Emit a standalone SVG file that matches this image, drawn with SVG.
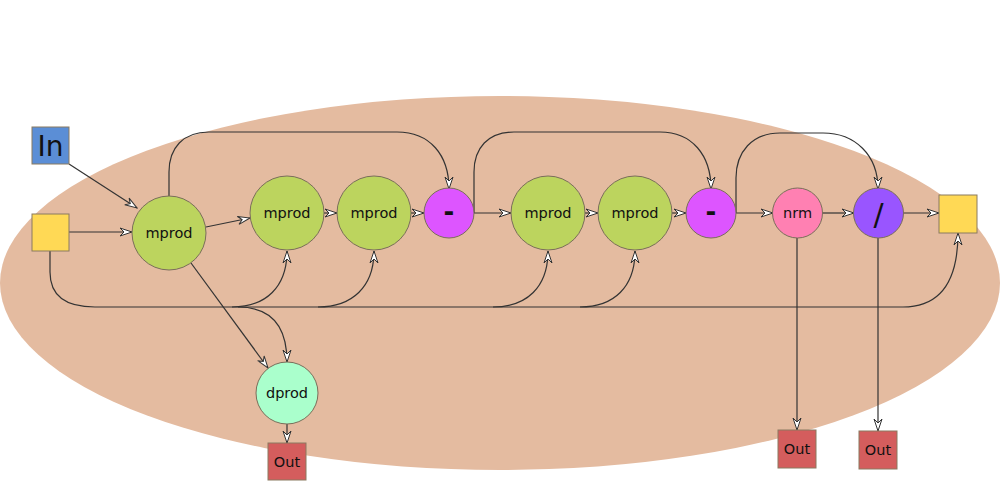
<svg xmlns="http://www.w3.org/2000/svg" width="1000" height="481" viewBox="0 0 1000 481">
<defs>
<marker id="arr" markerUnits="userSpaceOnUse" markerWidth="14" markerHeight="10" viewBox="-1 -1 14 10" refX="12" refY="4" orient="auto">
<path d="M0,0 L12,4 L0,8 L4,4 Z" fill="#fff" stroke="#333" stroke-width="1"/>
</marker>
</defs>
<style>
.c{fill:none;stroke:#333;stroke-width:1.2;marker-end:url(#arr)}
.n{stroke:#7a6e5a;stroke-width:1}
.t{font-family:"DejaVu Sans",sans-serif;font-size:14.5px;text-anchor:middle;dominant-baseline:central;fill:#111}
.mp{fill:#bcd45e}
.op{fill:#dd55ff}
.box{stroke:#8a7a60;stroke-width:1}
</style>
<rect width="1000" height="481" fill="#fff"/>
<ellipse cx="500" cy="283" rx="500" ry="187" fill="#e4bba0"/>
<g id="connectors">
<path class="c" d="M69,164 L137,208"/>
<path class="c" d="M69,232 L132,232"/>
<path class="c" d="M206,227 L250,218"/>
<path class="c" d="M324,213 L337,213"/>
<path class="c" d="M411,213 L424,213"/>
<path class="c" d="M474,213 L511,213"/>
<path class="c" d="M585,213 L598,213"/>
<path class="c" d="M672,213 L686,213"/>
<path class="c" d="M736,213 L773,213"/>
<path class="c" d="M822,213 L854,213"/>
<path class="c" d="M903,213 L939,213"/>
<path class="c" d="M169,196 L169,172 C169,148 183,132 209,132 L397,132 C430,132 449,155 449,189"/>
<path class="c" d="M474,213 L474,172 C474,148 488,132 514,132 L660,132 C692,132 711,155 711,189"/>
<path class="c" d="M736,213 L736,178 C736,152 752,133 780,133 L823,133 C855,133 878,155 878,189"/>
<path class="c" d="M50,251 L50,272 C50,295 65,307 95,307 L903,307 C938,307 958,285 958,233"/>
<path class="c" d="M232,307 C266,307 287,287 287,251"/>
<path class="c" d="M318,307 C352,307 374,287 374,251"/>
<path class="c" d="M493,307 C527,307 548,287 548,251"/>
<path class="c" d="M580,307 C614,307 635,287 635,251"/>
<path class="c" d="M238,307 C270,307 287,325 287,362"/>
<path class="c" d="M191,263 L268,368"/>
<path class="c" d="M287,424 L287,443"/>
<path class="c" d="M797,238 L797,430"/>
<path class="c" d="M878,238 L878,431"/>
</g>
<g id="in"><rect class="box" x="32" y="127" width="37" height="37" fill="#5b8ed6"/><text class="t" x="50.5" y="146" style="font-size:28px">In</text></g>
<g id="src"><rect class="box" x="32" y="214" width="37" height="37" fill="#ffd955"/></g>
<g id="mprod1"><circle class="n mp" cx="169" cy="233" r="37"/><text class="t" x="169" y="233">mprod</text></g>
<g id="mprod2"><circle class="n mp" cx="287" cy="213" r="37"/><text class="t" x="287" y="213">mprod</text></g>
<g id="mprod3"><circle class="n mp" cx="374" cy="213" r="37"/><text class="t" x="374" y="213">mprod</text></g>
<g id="minus1"><circle class="n op" cx="449" cy="213" r="25"/><text class="t" x="449" y="212" style="font-size:26px;font-weight:bold">-</text></g>
<g id="mprod4"><circle class="n mp" cx="548" cy="213" r="37"/><text class="t" x="548" y="213">mprod</text></g>
<g id="mprod5"><circle class="n mp" cx="635" cy="213" r="37"/><text class="t" x="635" y="213">mprod</text></g>
<g id="minus2"><circle class="n op" cx="711" cy="213" r="25"/><text class="t" x="711" y="212" style="font-size:26px;font-weight:bold">-</text></g>
<g id="nrm"><circle class="n" cx="797.5" cy="213" r="25" fill="#ff80b2"/><text class="t" x="797.5" y="213">nrm</text></g>
<g id="div"><circle class="n" cx="878.5" cy="213" r="25" fill="#9955ff"/><text class="t" x="878.5" y="214" style="font-size:30px">/</text></g>
<g id="sink"><rect class="box" x="939" y="195" width="38" height="38" fill="#ffd955"/></g>
<g id="dprod"><circle class="n" cx="287" cy="393" r="31" fill="#aaffcc"/><text class="t" x="287" y="393">dprod</text></g>
<g id="out1"><rect class="box" x="268" y="443" width="38" height="37" fill="#d45d5d"/><text class="t" x="287" y="462">Out</text></g>
<g id="out2"><rect class="box" x="778" y="430" width="38" height="38" fill="#d45d5d"/><text class="t" x="797" y="449">Out</text></g>
<g id="out3"><rect class="box" x="859" y="431" width="38" height="38" fill="#d45d5d"/><text class="t" x="878" y="450">Out</text></g>
</svg>
